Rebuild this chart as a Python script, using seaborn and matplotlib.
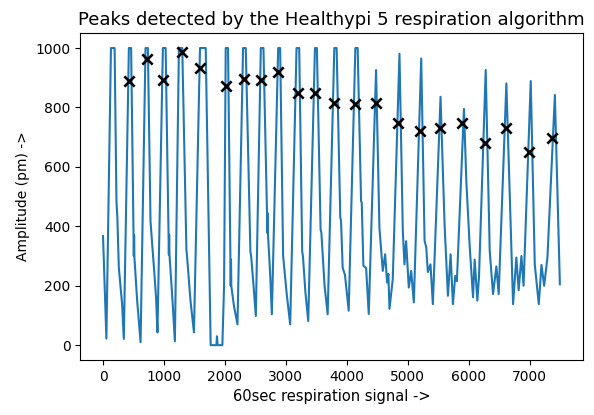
import matplotlib
matplotlib.use("Agg")
import matplotlib.pyplot as plt
import seaborn as sns
import pandas as pd

# Respiration signal (sample index, amplitude)
sig_x = [0, 55,
         130, 190, 220, 235, 259, 313, 341,
         424, 461, 500, 505, 510, 515, 560, 616,
         697, 736, 779, 834, 870, 893,
         982, 1027, 1075, 1080, 1085, 1090, 1140, 1179,
         1245, 1300, 1368, 1378, 1435, 1492,
         1591, 1685, 1766, 1860, 1870, 1880, 1958, 1986,
         2013, 2051, 2090, 2095, 2100, 2105, 2150, 2206,
         2298, 2342, 2418, 2430, 2470, 2507,
         2589, 2632, 2690, 2695, 2700, 2705, 2740, 2770,
         2874, 2906, 2955, 2965, 3015, 3071,
         3175, 3219, 3268, 3280, 3320, 3367,
         3477, 3509, 3570, 3582, 3635, 3686,
         3795, 3833, 3893, 3905, 3932, 3970, 4031,
         4140, 4178, 4234, 4245, 4272, 4317, 4360,
         4480, 4535, 4590, 4629, 4661, 4682, 4700, 4754,
         4864, 4919, 4946, 4973, 5017, 5056, 5100,
         5221, 5276, 5303, 5330, 5373, 5412,
         5538, 5604, 5659, 5703, 5741, 5779, 5806,
         5922, 5961, 6016, 6071, 6098, 6142, 6169,
         6279, 6345, 6399, 6454, 6492,
         6618, 6690, 6728, 6782, 6820, 6865, 6900,
         7018, 7084, 7150, 7194, 7238, 7292,
         7414, 7496]
sig_y = [367, 22,
         1000, 1000, 486, 430, 261, 138, 21,
         1000, 1000, 370, 300, 370, 295, 150, 10,
         1000, 1000, 416, 265, 160, 43,
         1000, 1000, 372, 305, 372, 305, 150, 13,
         1000, 1000, 322, 300, 150, 43,
         1000, 1000, 0, 0, 30, 0, 0, 199,
         1000, 1000, 288, 200, 288, 198, 130, 70,
         1000, 1000, 315, 300, 200, 98,
         1000, 1000, 450, 378, 445, 378, 250, 104,
         1000, 1000, 300, 278, 170, 70,
         1000, 1000, 315, 300, 180, 81,
         1000, 1000, 388, 380, 200, 104,
         1000, 1000, 429, 420, 261, 236, 116,
         1000, 1000, 485, 480, 267, 260, 105,
         926, 395, 250, 306, 211, 240, 122, 222,
         981, 384, 272, 350, 194, 250, 144,
         965, 351, 330, 246, 272, 138,
         836, 406, 166, 306, 138, 233, 215,
         795, 552, 334, 161, 288, 150, 230,
         926, 317, 172, 265, 172,
         881, 390, 138, 295, 185, 300, 200,
         889, 272, 138, 270, 200, 295,
         842, 205]

# Detected peaks
peak_x = [424, 725, 982, 1290, 1591, 2013, 2315, 2589, 2863, 3192, 3477,
          3795, 4141, 4480, 4837, 5204, 5522, 5895, 6263, 6607, 6986, 7369]
peak_y = [888, 962, 891, 988, 932, 872, 897, 892, 919, 848, 848,
          816, 812, 816, 748, 722, 732, 747, 680, 732, 650, 697]

sig = pd.DataFrame({"x": sig_x, "y": sig_y})
peaks = pd.DataFrame({"x": peak_x, "y": peak_y})

fig, ax = plt.subplots(figsize=(5.94, 4.15), dpi=100)
sns.lineplot(data=sig, x="x", y="y", ax=ax, sort=False, color="#1f77b4", linewidth=1.5)
sns.scatterplot(data=peaks, x="x", y="y", ax=ax, marker="x", color="black",
                s=55, linewidth=1.9, zorder=3)

ax.set_title("Peaks detected by the Healthypi 5 respiration algorithm", fontsize=13)
ax.set_xlabel("60sec respiration signal ->", fontsize=10.5)
ax.set_ylabel("Amplitude (pm) ->", fontsize=10)
ax.set_xticks([0, 1000, 2000, 3000, 4000, 5000, 6000, 7000])
ax.set_yticks([0, 200, 400, 600, 800, 1000])

fig.subplots_adjust(left=0.135, right=0.981, top=0.920, bottom=0.1325)
fig.savefig("out.png", dpi=100)
